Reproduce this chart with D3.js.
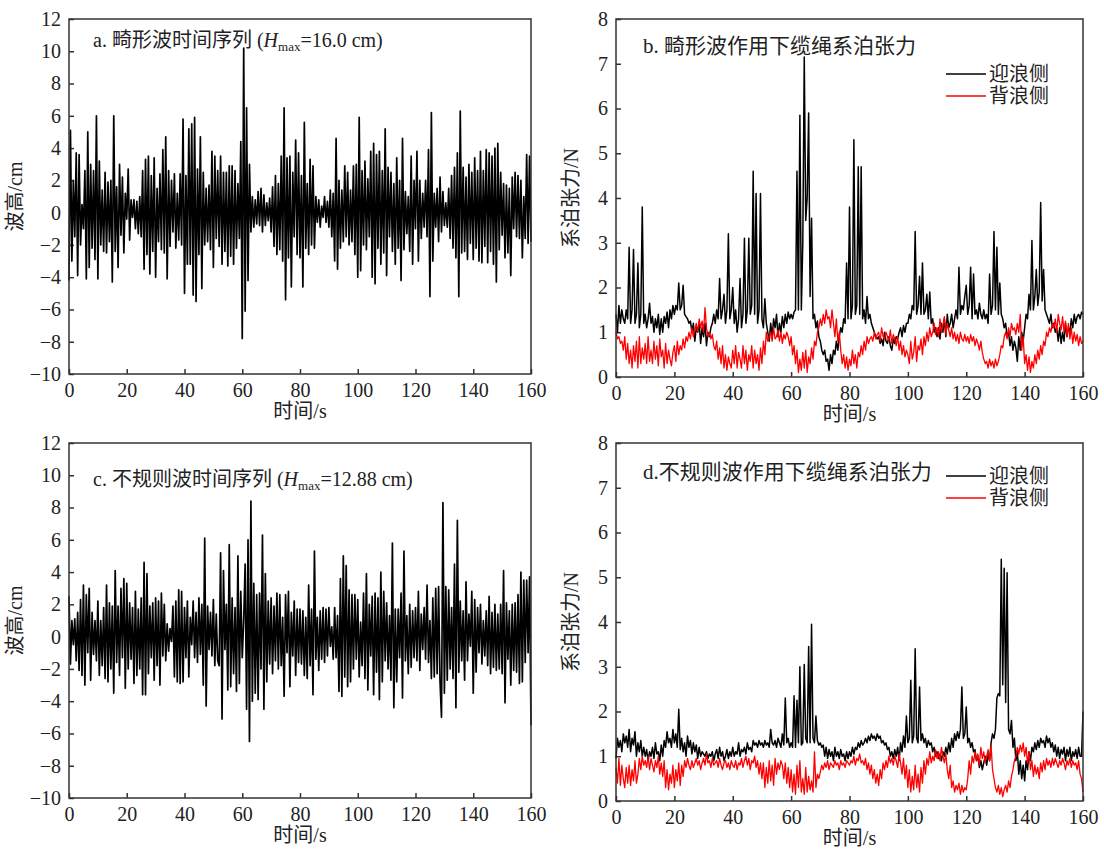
<!DOCTYPE html>
<html>
<head>
<meta charset="utf-8">
<script src="https://cdn.jsdelivr.net/npm/d3@7"></script>
<style>
  body { margin: 0; background: #fff; }
  svg { display: block; }
  text { font-family: "Liberation Serif", "Noto Sans CJK SC", serif; fill: #222; }
</style>
</head>
<body>
<svg width="1104" height="851"></svg>
<script>
// sampling step of every series, in seconds (values below are read every 0.5 s)
const step = 0.5;
const xTicks = [0, 20, 40, 60, 80, 100, 120, 140, 160];
const waveTicks = [-10, -8, -6, -4, -2, 0, 2, 4, 6, 8, 10, 12];
const forceTicks = [0, 1, 2, 3, 4, 5, 6, 7, 8];

// a. 畸形波时间序列 (cm)
const freakWave = [
  -4.2, 5.1, -3.0, 2.0, -1.5, 3.7, -3.9, 3.6, -2.0, 0.5, -1.0, 2.6, -4.1, 5.0, -3.4, 3.0, -2.2, 2.6, -2.9, 6.0,
  -4.1, 3.2, -2.0, 1.4, -2.4, 2.5, -2.5, 1.9, -1.8, 2.0, -4.3, 6.0, -2.4, 1.6, -3.4, 3.0, -1.4, 2.2, -2.5, 1.2,
  -0.4, 2.7, -1.7, 0.8, -0.3, 0.8, -1.0, 0.7, -1.3, 1.0, -1.5, 2.6, -3.5, 3.3, -2.6, 3.5, -3.8, 2.3, -2.4, 3.4,
  -4.0, 1.5, -1.8, 2.4, -2.3, 3.9, -2.5, 4.7, -4.1, 2.6, -2.1, 2.0, -1.2, 2.4, -2.2, 1.2, -1.7, 2.4, -2.0, 5.8,
  -5.0, 2.3, -3.2, 5.2, -3.2, 5.5, -5.1, 5.9, -5.5, 2.7, -2.6, 4.7, -4.7, 2.5, -2.0, 1.5, -1.8, 1.7, -2.3, 3.8,
  -3.4, 3.5, -1.6, 2.6, -2.1, 3.5, -3.2, 2.5, -2.4, 2.5, -3.3, 2.9, -2.7, 2.9, -3.2, 2.6, -2.2, 1.8, -1.6, 4.4,
  -7.8, 10.2, -6.1, 6.5, -4.2, 3.0, -1.2, 1.0, -0.9, 0.8, -0.7, 1.3, -0.8, 1.5, -1.2, 1.1, -0.8, 0.6, -0.5, 0.9,
  -1.2, 1.6, -2.1, 2.3, -2.6, 1.8, -2.3, 3.5, -3.0, 6.5, -5.4, 3.4, -2.8, 3.5, -4.6, 2.5, -1.5, 4.5, -2.6, 3.7,
  -2.8, 2.3, -4.6, 5.6, -2.2, 1.8, -2.6, 3.3, -2.0, 2.9, -2.2, 1.0, -0.6, 0.8, -0.9, 0.4, -0.3, 1.0, -0.6, 0.7,
  -0.9, 1.4, -1.5, 1.2, -3.0, 4.6, -3.5, 2.0, -2.2, 1.4, -1.8, 2.9, -1.5, 2.5, -2.0, 1.4, -1.8, 2.9, -2.6, 3.0,
  -4.0, 5.9, -3.6, 2.6, -2.0, 3.2, -2.3, 2.1, -1.5, 3.8, -4.0, 4.3, -4.4, 3.6, -2.2, 3.8, -3.2, 2.6, -2.5, 5.2,
  -3.9, 2.8, -1.5, 2.5, -2.4, 1.8, -3.2, 3.4, -2.2, 2.0, -4.2, 4.6, -2.3, 1.3, -1.3, 1.0, -2.4, 3.5, -3.2, 2.0,
  -1.0, 3.8, -3.0, 2.0, -1.6, 1.2, -0.9, 2.0, -1.5, 3.9, -5.2, 6.2, -3.0, 1.2, -0.9, 1.5, -1.8, 2.2, -1.2, 1.3,
  -0.8, 0.6, -0.9, 1.5, -1.6, 2.3, -2.2, 2.8, -2.8, 3.7, -5.2, 6.3, -2.5, 2.8, -2.4, 2.2, -2.9, 3.0, -1.9, 2.5,
  -2.9, 3.4, -2.2, 2.6, -3.0, 3.8, -3.1, 2.6, -2.1, 3.9, -3.1, 3.7, -2.4, 3.5, -3.2, 4.0, -4.3, 4.3, -2.3, 2.5,
  -1.4, 1.8, -2.8, 1.7, -2.5, 1.5, -3.9, 2.2, -1.0, 2.5, -1.5, 2.3, -1.6, 2.0, -2.8, 1.0, -1.6, 3.6, -1.9, 3.5,
  -1.8
];

// b. 畸形波作用下缆绳系泊张力 (N)
const freakWindward = [
  1.4, 1.0, 1.6, 1.2, 1.5, 1.3, 1.2, 1.5, 1.3, 2.9, 1.2, 1.5, 2.85, 1.2, 1.4, 2.55, 1.1, 1.4, 3.8, 1.2,
  1.4, 1.1, 1.3, 1.65, 1.2, 1.35, 1.0, 1.3, 1.1, 1.4, 0.95, 1.3, 1.0, 1.35, 1.2, 1.45, 1.1, 1.5, 1.3, 1.6,
  1.4, 1.6, 1.5, 2.1, 1.5, 1.6, 2.05, 1.4, 1.35, 1.3, 1.2, 1.25, 1.0, 1.2, 0.8, 1.1, 1.0, 1.2, 0.75, 1.1,
  0.9, 1.2, 0.7, 1.0, 0.9, 1.1, 1.2, 1.4, 1.2, 1.5, 1.3, 2.2, 1.3, 1.5, 1.85, 1.2, 1.5, 3.2, 1.3, 1.5,
  2.0, 1.2, 1.5, 1.0, 1.3, 2.2, 1.1, 1.4, 3.1, 1.2, 1.5, 3.1, 1.4, 1.6, 4.6, 1.4, 4.1, 1.2, 1.5, 4.1,
  1.3, 1.1, 1.75, 1.2, 1.0, 0.8, 1.2, 0.9, 1.3, 1.1, 1.4, 0.9, 1.2, 1.0, 1.35, 1.1, 1.4, 1.2, 1.45, 1.3,
  1.4, 1.3, 1.45, 1.5, 4.6, 1.5, 5.85, 1.5, 3.0, 7.15, 3.5, 4.0, 5.9, 1.8, 3.55, 1.3, 1.4, 1.1, 1.25, 0.9,
  0.8, 0.6, 0.5, 0.6, 0.35, 0.4, 0.15, 0.5, 0.3, 0.6, 0.5, 0.8, 0.6, 0.9, 1.1, 1.0, 1.3, 1.2, 2.55, 1.3,
  3.8, 1.3, 1.6, 5.3, 1.4, 1.6, 4.7, 1.4, 4.7, 1.3, 1.5, 1.2, 1.8, 1.3, 1.4, 1.2, 1.1, 1.0, 0.9, 0.85,
  0.9, 0.75, 0.85, 0.7, 1.0, 0.8, 0.75, 0.9, 0.7, 0.6, 0.85, 0.75, 0.9, 0.85, 1.0, 1.1, 0.9, 1.15, 1.0, 1.2,
  1.2, 1.4, 1.3, 1.6, 1.5, 3.25, 1.4, 1.6, 2.25, 1.4, 2.55, 1.4, 1.5, 1.85, 1.3, 1.9, 1.2, 1.3, 1.0, 1.1,
  0.9, 1.1, 0.85, 1.2, 1.0, 1.3, 0.9, 1.4, 1.1, 1.2, 1.4, 1.1, 1.3, 1.5, 1.3, 2.45, 1.4, 1.6, 1.5, 1.8,
  2.05, 1.4, 1.6, 2.45, 1.3, 2.3, 1.4, 1.5, 1.3, 1.65, 1.4, 1.3, 1.5, 1.3, 1.4, 1.2, 2.3, 1.4, 1.6, 3.25,
  1.5, 2.9, 1.4, 2.1, 1.4, 1.3, 1.1, 1.2, 0.9, 1.0, 0.7, 0.9, 0.6, 0.8, 0.65, 0.35, 0.9, 0.6, 1.0, 0.8,
  1.1, 1.4, 1.3, 1.85, 1.5, 3.05, 1.5, 1.8, 2.4, 1.6, 1.9, 3.9, 1.7, 2.4, 1.5, 1.4, 1.3, 1.2, 1.4, 1.1,
  1.2, 1.0, 1.1, 0.8, 1.1, 0.75, 1.0, 0.8, 1.2, 0.9, 1.1, 1.0, 1.3, 1.1, 1.4, 1.2, 1.35, 1.4, 1.3, 1.45,
  1.4
];
const freakLeeward = [
  1.0, 0.85, 0.9, 0.75, 0.8, 0.6, 0.9, 0.4, 0.75, 0.3, 0.6, 0.2, 0.7, 0.35, 0.8, 0.2, 0.9, 0.3, 0.65, 0.4,
  0.75, 0.3, 0.9, 0.35, 0.6, 0.3, 0.8, 0.4, 0.7, 0.25, 0.85, 0.45, 0.6, 0.2, 0.75, 0.3, 0.6, 0.4, 0.25, 0.55,
  0.7, 0.35, 0.8, 0.5, 0.7, 0.6, 0.85, 0.65, 0.9, 0.8, 1.0, 0.85, 1.1, 0.9, 1.05, 1.2, 1.0, 1.3, 1.1, 1.25,
  1.0, 1.55, 1.1, 0.9, 1.0, 0.85, 0.95, 0.7, 0.6, 0.8, 0.4, 0.65, 0.3, 0.7, 0.2, 0.5, 0.15, 0.45, 0.3, 0.2,
  0.6, 0.3, 0.7, 0.2, 0.55, 0.4, 0.2, 0.7, 0.3, 0.6, 0.15, 0.5, 0.35, 0.7, 0.2, 0.6, 0.3, 0.5, 0.15, 0.65,
  0.3, 0.8, 0.5, 1.0, 0.8, 0.9, 1.0, 0.8, 1.1, 0.85, 0.9, 1.05, 0.8, 1.0, 0.75, 0.95, 0.85, 1.0, 0.9, 0.7,
  0.9, 0.5, 0.7, 0.3, 0.6, 0.1, 0.4, 0.15, 0.55, 0.2, 0.6, 0.1, 0.45, 0.3, 0.65, 0.4, 0.8, 0.7, 1.0, 1.1,
  1.3, 1.15, 1.4, 1.2, 1.5, 1.3, 1.35, 1.1, 1.5, 1.2, 0.9, 1.3, 0.8, 1.0, 0.6, 0.3, 0.5, 0.2, 0.45, 0.15,
  0.4, 0.25, 0.6, 0.3, 0.5, 0.2, 0.55, 0.45, 0.7, 0.5, 0.8, 0.6, 0.9, 0.75, 0.85, 0.9, 0.8, 1.0, 0.85, 0.95,
  1.0, 0.8, 1.1, 0.9, 0.85, 1.0, 0.9, 0.8, 1.05, 0.75, 0.95, 0.85, 0.7, 0.9, 0.6, 0.8, 0.5, 0.7, 0.45, 0.6,
  0.5, 0.3, 0.8, 0.4, 0.55, 0.9, 0.35, 0.7, 0.6, 0.85, 0.5, 0.9, 0.7, 1.0, 0.8, 1.1, 0.9, 1.0, 1.2, 0.95,
  1.1, 0.9, 1.3, 1.0, 1.15, 1.35, 0.95, 1.2, 1.05, 0.9, 1.1, 0.85, 1.0, 0.8, 0.95, 0.75, 1.0, 0.85, 0.8, 0.95,
  0.8, 0.9, 0.75, 0.95, 0.8, 0.9, 0.7, 0.85, 0.75, 0.6, 0.8, 0.55, 0.4, 0.3, 0.35, 0.2, 0.4, 0.25, 0.35, 0.2,
  0.4, 0.25, 0.35, 0.5, 0.7, 0.65, 0.9, 1.0, 0.85, 1.1, 0.9, 1.2, 1.05, 1.1, 0.95, 1.2, 1.0, 1.4, 0.6, 0.9,
  0.3, 0.5, 0.15, 0.45, 0.1, 0.35, 0.2, 0.5, 0.3, 0.6, 0.4, 0.7, 0.5, 0.8, 0.7, 1.0, 0.9, 1.1, 1.0, 1.2,
  1.1, 1.3, 1.0, 1.4, 1.2, 1.05, 1.35, 1.0, 1.25, 0.9, 1.2, 0.85, 1.1, 0.75, 1.0, 0.8, 0.95, 0.7, 0.9, 0.75,
  0.8
];

// c. 不规则波时间序列 (cm)
const irregWave = [
  2.5, -1.7, 1.0, -0.5, 1.1, -1.5, 1.5, -2.1, 2.3, -2.4, 3.2, -3.0, 2.6, -1.0, 3.0, -2.7, 1.5, -1.1, 1.0, -1.5,
  2.2, -2.4, 1.0, -1.8, 1.8, -2.6, 3.2, -2.8, 2.1, -2.0, 1.9, -3.5, 4.1, -1.6, 1.9, -2.4, 3.0, -1.3, 3.6, -3.2,
  3.3, -2.0, 2.1, -1.4, 1.8, -2.9, 2.8, -2.4, 1.7, -2.0, 2.4, -3.6, 4.6, -3.6, 3.9, -2.3, 1.9, -1.3, 2.1, -2.7,
  2.4, -1.8, 2.2, -3.0, 2.7, -1.2, 2.0, -1.5, 0.8, -0.9, 0.5, -0.3, 1.9, -2.5, 2.2, -2.8, 2.9, -2.9, 2.8, -2.8,
  1.8, -1.3, 2.2, -2.5, 1.2, -0.5, 2.2, -1.3, 1.5, -1.6, 2.4, -1.1, 2.0, -3.0, 6.1, -4.3, 1.9, -0.8, 1.5, -1.2,
  2.3, -1.8, 1.4, -1.5, -1.8, 5.2, -5.1, 4.1, -0.8, 2.0, -3.3, 5.7, -3.1, 2.4, -2.3, 1.8, -3.4, 5.0, -2.9, 2.8,
  -1.3, 1.0, 4.5, -4.5, 6.0, -6.5, 8.4, -4.0, 3.3, -3.5, 2.6, -3.9, 2.7, -2.0, 6.3, -4.5, 3.9, -2.8, 2.2, -1.7,
  2.4, -2.3, 1.9, -1.5, 2.7, -2.0, 2.6, -1.8, 1.2, -3.7, 2.6, -1.0, 2.8, -3.1, 1.5, -1.2, 2.2, -2.4, 1.7, -1.6,
  1.7, -1.7, 1.6, -2.4, 1.2, -2.6, 3.2, -1.8, 1.7, -3.6, 5.3, -1.4, 1.2, -2.1, 1.6, -1.4, 1.8, -1.6, 1.7, -1.2,
  1.8, -0.6, 0.6, -1.4, 1.8, -1.3, 1.3, -3.4, 3.6, -3.7, 5.0, -2.5, 4.4, -3.1, 2.9, -2.8, 2.6, -2.0, 2.6, -1.4,
  2.3, -2.5, 0.9, -1.8, 2.7, -2.6, 3.9, -3.3, 2.0, -1.2, 2.5, -3.6, 2.7, -2.2, 2.4, -3.9, 4.0, -2.8, 2.8, -1.5,
  2.1, -2.0, 1.3, -2.7, 5.8, -4.4, 1.7, -2.8, 1.7, -1.3, 2.7, -3.8, 5.3, -1.5, 1.3, -2.3, 2.0, -1.9, 1.6, -1.3,
  1.8, -1.5, 2.8, -2.1, 1.4, -0.8, 1.8, -1.4, 3.2, -1.6, 1.0, -2.6, 2.4, -2.5, 3.0, -2.3, 3.1, -2.8, -5.0, 8.3,
  -3.5, 3.1, -2.7, 2.9, -2.0, 1.8, -2.6, 4.5, -4.4, 7.2, -2.2, 2.2, -1.5, 1.6, -2.7, 3.4, -1.5, 1.4, -0.6, 2.8,
  -3.5, 2.3, -2.2, 1.8, -1.0, 2.0, -1.7, 1.0, -1.2, 1.6, -1.8, 2.5, -2.3, 1.5, -1.9, 2.0, -2.1, 1.4, -2.0, 2.0,
  -2.3, 4.1, -4.1, 2.1, -1.4, 1.6, -3.0, 2.0, -2.1, 2.1, -2.2, 2.6, -2.9, 4.0, -2.8, 3.5, -1.6, 3.5, -1.0, 3.7,
  -5.5
];

// d. 不规则波作用下缆绳系泊张力 (N)
const irregWindward = [
  0.95, 1.4, 1.2, 1.35, 1.1, 1.5, 1.3, 1.45, 1.2, 1.6, 1.1, 1.4, 1.25, 1.55, 1.0, 1.3, 1.1, 1.35, 1.0, 1.2,
  1.0, 1.15, 0.9, 1.1, 1.0, 1.2, 0.95, 1.3, 1.05, 1.1, 0.9, 1.25, 1.0, 1.35, 1.2, 1.55, 1.3, 1.4, 1.2, 1.6,
  1.3, 1.5, 1.2, 2.05, 1.15, 1.4, 1.1, 1.3, 1.0, 1.45, 1.2, 1.35, 1.05, 1.3, 1.1, 1.25, 0.95, 1.2, 1.0, 1.1,
  1.05, 1.0, 1.1, 0.95, 1.05, 1.0, 1.1, 0.9, 1.05, 1.15, 0.95, 1.2, 1.0, 1.1, 0.9, 1.0, 1.15, 0.95, 1.1, 1.0,
  1.2, 1.0, 1.1, 1.05, 1.3, 1.0, 1.15, 1.1, 1.2, 1.05, 1.3, 1.15, 1.2, 1.1, 1.35, 1.25, 1.3, 1.2, 1.35, 1.25,
  1.3, 1.2, 1.35, 1.25, 1.3, 1.2, 1.6, 1.3, 1.25, 1.35, 1.2, 1.4, 1.3, 1.2, 1.5, 1.25, 2.3, 1.3, 1.4, 1.2,
  1.3, 1.2, 2.35, 1.2, 2.25, 1.3, 3.0, 1.25, 1.3, 3.05, 1.4, 1.3, 3.45, 1.3, 3.95, 1.4, 1.3, 1.9, 1.35, 1.25,
  1.3, 1.2, 1.25, 1.0, 1.2, 0.95, 1.15, 1.0, 1.1, 0.9, 1.2, 1.0, 1.1, 0.95, 1.15, 1.0, 1.05, 0.9, 1.1, 0.95,
  1.1, 1.0, 1.2, 1.05, 1.2, 1.15, 1.3, 1.2, 1.35, 1.25, 1.3, 1.4, 1.3, 1.45, 1.35, 1.5, 1.4, 1.45, 1.35, 1.5,
  1.4, 1.45, 1.3, 1.35, 1.25, 1.3, 1.15, 1.2, 1.0, 1.1, 0.95, 1.15, 1.0, 1.2, 0.9, 1.3, 1.1, 1.45, 1.2, 1.9,
  1.3, 1.4, 2.7, 1.3, 1.45, 3.4, 1.4, 1.3, 2.55, 1.35, 1.5, 1.3, 1.4, 1.2, 1.35, 1.25, 1.3, 1.1, 1.2, 1.0,
  1.1, 0.95, 1.05, 0.9, 1.1, 1.0, 1.2, 1.05, 1.3, 1.1, 1.4, 1.2, 1.5, 1.35, 1.55, 1.4, 1.6, 2.55, 1.4, 1.5,
  2.1, 1.3, 1.4, 1.2, 1.3, 1.1, 1.15, 0.9, 1.0, 0.75, 0.9, 0.7, 0.85, 1.0, 0.8, 1.05, 0.9, 1.3, 1.5, 1.4,
  1.6, 2.3, 2.4, 2.35, 5.4, 2.6, 5.2, 2.2, 5.1, 1.6, 1.5, 1.8, 1.2, 1.4, 0.9, 1.1, 0.6, 0.9, 0.5, 0.8,
  0.45, 0.9, 0.7, 1.1, 0.9, 1.2, 1.1, 1.3, 1.15, 1.35, 1.2, 1.4, 1.3, 1.35, 1.2, 1.45, 1.3, 1.4, 1.2, 1.3,
  1.1, 1.25, 1.0, 1.2, 0.95, 1.15, 1.05, 1.2, 0.9, 1.15, 1.0, 1.2, 0.9, 1.1, 1.0, 1.15, 0.95, 1.2, 1.0, 1.0,
  2.0
];
const irregLeeward = [
  0.75, 0.4, 0.95, 0.35, 0.8, 0.5, 0.3, 0.75, 0.4, 0.8, 0.35, 0.7, 0.45, 0.9, 0.4, 0.6, 0.95, 0.7, 1.0, 0.8,
  0.9, 0.75, 1.0, 0.7, 0.95, 0.8, 0.65, 0.9, 0.75, 1.0, 0.6, 0.85, 0.55, 0.9, 0.3, 0.7, 0.25, 0.6, 0.4, 0.8,
  0.3, 0.7, 0.45, 0.85, 0.35, 0.8, 0.55, 0.9, 0.75, 0.95, 0.8, 0.7, 0.9, 0.75, 0.85, 0.95, 0.8, 0.9, 0.7, 0.85,
  0.95, 0.8, 1.05, 0.85, 0.9, 0.75, 0.95, 0.8, 0.85, 0.9, 0.75, 0.95, 0.8, 0.7, 0.85, 0.9, 0.75, 0.85, 0.7, 0.9,
  0.8, 0.75, 0.9, 0.7, 0.85, 0.8, 0.95, 0.75, 0.9, 1.0, 0.8, 0.95, 0.7, 0.9, 0.85, 1.0, 0.75, 0.9, 0.6, 0.85,
  0.5, 0.85, 0.3, 0.75, 0.4, 0.9, 0.45, 0.8, 0.35, 0.95, 0.6, 0.85, 0.7, 0.9, 0.8, 0.5, 0.85, 0.4, 0.75, 0.3,
  0.7, 0.2, 0.6, 0.15, 0.8, 0.3, 0.9, 0.2, 0.5, 0.15, 0.75, 0.2, 0.55, 0.25, 0.45, 0.2, 1.1, 0.3, 0.6, 0.5,
  0.65, 0.8, 0.7, 0.85, 0.75, 0.9, 0.7, 0.85, 0.8, 0.75, 0.9, 0.8, 0.85, 0.7, 0.9, 0.8, 0.85, 0.75, 0.9, 0.85,
  0.8, 0.9, 0.85, 1.0, 0.8, 0.95, 0.9, 1.05, 0.85, 0.9, 0.8, 0.95, 0.7, 0.85, 0.6, 0.8, 0.5, 0.7, 0.4, 0.6,
  0.35, 0.7, 0.5, 0.85, 0.7, 0.9, 0.75, 1.0, 0.85, 0.95, 0.8, 1.0, 0.9, 0.75, 1.05, 0.85, 0.6, 0.95, 0.5, 0.8,
  0.3, 0.7, 0.2, 0.55, 0.25, 0.8, 0.3, 0.6, 0.2, 0.75, 0.4, 0.9, 0.6, 0.95, 0.8, 1.1, 0.85, 1.0, 0.9, 1.15,
  0.95, 1.1, 0.9, 1.2, 1.0, 0.85, 1.05, 0.7, 0.5, 0.8, 0.3, 0.45, 0.2, 0.35, 0.25, 0.4, 0.15, 0.35, 0.2, 0.3,
  0.25, 0.5, 0.9, 0.6, 1.0, 0.85, 1.1, 0.9, 1.05, 0.8, 1.2, 0.95, 1.1, 0.85, 1.0, 1.15, 0.9, 1.25, 0.7, 0.5,
  0.3, 0.2, 0.35, 0.15, 0.3, 0.1, 0.25, 0.35, 0.2, 0.45, 0.3, 0.55, 0.7, 0.9, 1.0, 1.2, 1.05, 1.25, 1.1, 1.3,
  1.0, 1.2, 0.85, 1.1, 0.7, 0.9, 0.55, 0.8, 0.6, 0.75, 0.5, 0.85, 0.65, 0.9, 0.7, 0.95, 0.8, 0.9, 0.75, 0.95,
  0.8, 0.95, 0.85, 0.75, 0.9, 0.8, 0.95, 0.85, 0.7, 0.9, 0.8, 0.95, 0.75, 0.9, 0.8, 0.85, 0.7, 0.9, 0.6, 0.5,
  0.2
];

const legendNames = ["迎浪侧", "背浪侧"];

const svg = d3.select("svg");
svg.append("rect").attr("width", 1104).attr("height", 851).attr("fill", "#fff");

// draws one panel with inward ticks
function panel(box, yDomain, yTicks, yTitle, titleOffset) {
  const x = d3.scaleLinear().domain([0, 160]).range([box.left, box.right]);
  const y = d3.scaleLinear().domain(yDomain).range([box.bottom, box.top]);
  const g = svg.append("g");

  g.append("g")
    .attr("transform", `translate(0,${box.bottom})`)
    .call(d3.axisBottom(x).tickValues(xTicks).tickSize(-5).tickPadding(9).tickFormat(d3.format("d")))
    .call(a => a.select(".domain").remove());
  g.append("g")
    .attr("transform", `translate(${box.left},0)`)
    .call(d3.axisLeft(y).tickValues(yTicks).tickSize(-5).tickPadding(8).tickFormat(d3.format("d")))
    .call(a => a.select(".domain").remove());
  g.selectAll(".tick line").attr("stroke", "#333").attr("stroke-width", 1.5);
  g.selectAll(".tick text")
    .attr("font-size", 20)
    .attr("fill", "#222")
    .style("font-family", "'Liberation Serif', serif");

  g.append("text")
    .attr("x", (box.left + box.right) / 2)
    .attr("y", box.bottom + 44)
    .attr("text-anchor", "middle")
    .attr("font-size", 20)
    .text("时间/s");
  g.append("text")
    .attr("transform", `translate(${box.left - titleOffset},${(box.top + box.bottom) / 2}) rotate(-90)`)
    .attr("text-anchor", "middle")
    .attr("font-size", 20)
    .text(yTitle);
  return { x, y, g };
}

function frame(box) {
  svg.append("rect")
    .attr("x", box.left).attr("y", box.top)
    .attr("width", box.right - box.left).attr("height", box.bottom - box.top)
    .attr("fill", "none").attr("stroke", "#333").attr("stroke-width", 1.5);
}

function series(p, values, color, width) {
  const line = d3.line().x((d, i) => p.x(i * step)).y(d => p.y(d));
  p.g.append("path")
    .datum(values)
    .attr("d", line)
    .attr("fill", "none")
    .attr("stroke", color)
    .attr("stroke-width", width)
    .attr("stroke-linejoin", "round");
}

function title(x, y, size, main, hmax) {
  const t = svg.append("text").attr("x", x).attr("y", y).attr("font-size", size);
  t.append("tspan").text(main);
  if (hmax) {
    t.append("tspan").text(" (");
    t.append("tspan").attr("font-style", "italic").text("H");
    t.append("tspan").attr("font-size", 13).attr("dy", 4).text("max");
    t.append("tspan").attr("dy", -4).text("=" + hmax + " cm)");
  }
}

function legend(x, y) {
  const colors = ["#000", "#f00"];
  legendNames.forEach((name, i) => {
    svg.append("line")
      .attr("x1", x).attr("x2", x + 40)
      .attr("y1", y + i * 22).attr("y2", y + i * 22)
      .attr("stroke", colors[i]).attr("stroke-width", 1.5);
    svg.append("text")
      .attr("x", x + 43).attr("y", y + i * 22 + 7)
      .attr("font-size", 20)
      .text(name);
  });
}

// a
const boxA = { left: 69, right: 531, top: 19, bottom: 374 };
const pA = panel(boxA, [-10, 12], waveTicks, "波高/cm", 47);
series(pA, freakWave, "#000", 1.7);
frame(boxA);
title(93, 47, 20, "a. 畸形波时间序列", "16.0");

// b
const boxB = { left: 616, right: 1083, top: 19, bottom: 377 };
const pB = panel(boxB, [0, 8], forceTicks, "系泊张力/N", 38);
series(pB, freakWindward, "#000", 1.5);
series(pB, freakLeeward, "#f00", 1.3);
frame(boxB);
title(643, 53, 21, "b. 畸形波作用下缆绳系泊张力");
legend(946, 74);

// c
const boxC = { left: 69, right: 531, top: 443, bottom: 798 };
const pC = panel(boxC, [-10, 12], waveTicks, "波高/cm", 47);
series(pC, irregWave, "#000", 1.7);
frame(boxC);
title(93, 486, 20, "c. 不规则波时间序列", "12.88");

// d
const boxD = { left: 616, right: 1083, top: 443, bottom: 801 };
const pD = panel(boxD, [0, 8], forceTicks, "系泊张力/N", 38);
series(pD, irregWindward, "#000", 1.5);
series(pD, irregLeeward, "#f00", 1.3);
frame(boxD);
title(643, 479, 21, "d.不规则波作用下缆绳系泊张力");
legend(946, 476);
</script>
</body>
</html>
